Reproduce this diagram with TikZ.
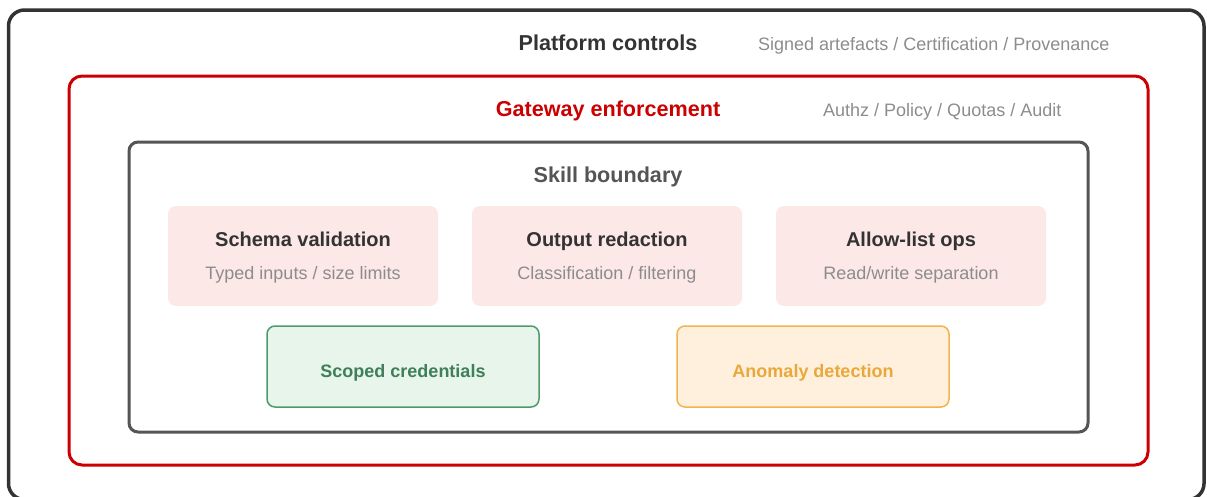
\documentclass[tikz,border=0pt]{standalone}
\usepackage{fontspec}
\setmainfont{Liberation Sans}
\usetikzlibrary{positioning}

\definecolor{ink}{HTML}{333333}
\definecolor{subgray}{HTML}{8C8C8C}
\definecolor{bndgray}{HTML}{555555}
\definecolor{gwred}{HTML}{CC0000}
\definecolor{cardpink}{HTML}{FDE8E8}
\definecolor{credfill}{HTML}{E8F5EA}
\definecolor{credline}{HTML}{4F9A6C}
\definecolor{credtext}{HTML}{3F7F5A}
\definecolor{anomfill}{HTML}{FFF0DD}
\definecolor{anomline}{HTML}{F0B54D}
\definecolor{anomtext}{HTML}{E9A83A}

\newcommand{\secfont}{\fontsize{21.6}{26}\selectfont\bfseries}
\newcommand{\cardfont}{\fontsize{20}{24}\selectfont\bfseries}
\newcommand{\notefont}{\fontsize{18}{22}\selectfont}

\begin{document}
\begin{tikzpicture}[x=1pt,y=-1pt,every node/.style={anchor=base,inner sep=0pt},
  card/.style={anchor=center,fill=cardpink,rounded corners=8pt,minimum width=270pt,minimum height=100pt},
  tile/.style={anchor=center,rounded corners=8pt,line width=1.5pt,minimum width=272pt,minimum height=81pt}]
\useasboundingbox (0,0) rectangle (1207,496);

% frames
\draw[ink,line width=3.5pt,rounded corners=16pt] (8.5,10) rectangle (1204,499.5);
\draw[gwred,line width=3pt,rounded corners=13pt] (69,76) rectangle (1148,465);
\draw[bndgray,line width=3pt,rounded corners=9pt] (129,142) rectangle (1088,432);

% frame titles
\node[text=ink] (pt) at (608,50.5) {\secfont Platform controls};
\node[text=subgray,anchor=base west] (ps) at (758,50.5) {\notefont Signed artefacts / Certification / Provenance};
\node[text=gwred] (gt) at (608,116.5) {\secfont Gateway enforcement};
\node[text=subgray,anchor=base west] (gs) at (823,116.5) {\notefont Authz / Policy / Quotas / Audit};
\node[text=bndgray] (st) at (608,182.5) {\secfont Skill boundary};

% cards
\node[card] (c1) at (303,256) {};
\node[card] (c2) at (607,256) {};
\node[card] (c3) at (911,256) {};
\node[text=ink] (c1t) at (303,246.7) {\cardfont Schema validation};
\node[text=subgray] (c1s) at (303,279) {\notefont Typed inputs / size limits};
\node[text=ink] (c2t) at (607,246.7) {\cardfont Output redaction};
\node[text=subgray] (c2s) at (607,279) {\notefont Classification / filtering};
\node[text=ink] (c3t) at (911,246.7) {\cardfont Allow-list ops};
\node[text=subgray] (c3s) at (911,279) {\notefont Read/write separation};

% bottom tiles
\node[tile,draw=credline,fill=credfill] (cred) at (403,366.5) {};
\node[text=credtext] (credt) at (403,377.3) {\notefont\bfseries Scoped credentials};
\node[tile,draw=anomline,fill=anomfill] (anom) at (813,366.5) {};
\node[text=anomtext] (anomt) at (813,377.3) {\notefont\bfseries Anomaly detection};
\end{tikzpicture}
\end{document}
